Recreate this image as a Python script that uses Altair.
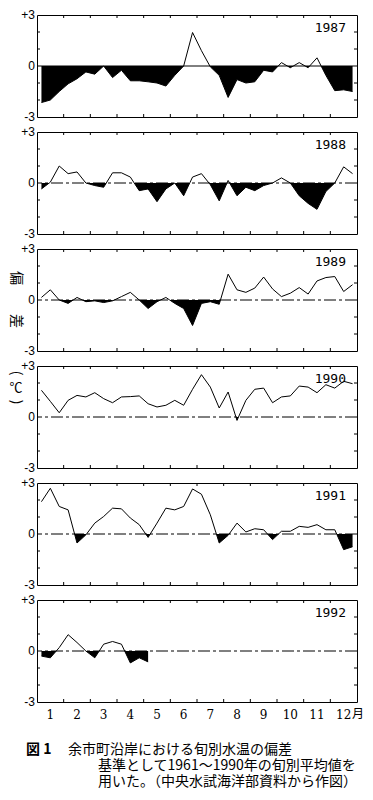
import altair as alt
import pandas as pd

# ---- data (dekad-wise water temperature anomaly, deg C) ----
YEARS = [1987, 1988, 1989, 1990, 1991, 1992]
V1987 = [-2.15, -2.0, -1.5, -1.05, -0.75, -0.35, -0.48, 0.0, -0.68, -0.25, -0.87, -0.87,
         -0.93, -1.0, -1.18, -0.55, 0.0, 1.97, 0.9, -0.05, -0.55, -1.85, -0.8, -1.0,
         -0.93, -0.25, -0.35, 0.2, -0.1, 0.2, -0.1, 0.48, -0.55, -1.45, -1.4, -1.5]
V1988 = [-0.35, 0.05, 1.0, 0.55, 0.65, 0.0, -0.15, -0.25, 0.6, 0.6, 0.35, -0.45,
         -0.35, -1.1, -0.35, 0.0, -0.75, 0.35, 0.55, -0.1, -1.05, 0.15, -0.75, -0.25,
         -0.45, -0.15, 0.0, 0.3, 0.0, -0.75, -1.2, -1.55, -0.5, 0.0, 0.95, 0.55]
V1989 = [0.15, 0.6, 0.0, -0.2, 0.15, -0.1, -0.05, -0.15, -0.05, 0.2, 0.45, 0.0,
         -0.5, -0.1, 0.15, -0.2, -0.5, -1.5, -0.2, -0.1, -0.25, 1.52, 0.6, 0.45,
         0.7, 1.35, 0.65, 0.2, 0.4, 0.73, 0.35, 1.12, 1.32, 1.38, 0.5, 0.9]
V1990 = [1.57, 0.92, 0.25, 0.98, 1.27, 1.18, 1.43, 1.08, 0.84, 1.18, 1.2, 1.24,
         0.78, 0.59, 0.69, 0.98, 0.69, 1.63, 2.49, 1.76, 0.53, 1.47, -0.2, 0.98,
         1.63, 1.7, 0.84, 1.18, 1.24, 1.82, 1.76, 1.43, 1.9, 1.7, 2.1, 1.96]
V1991 = [1.9, 2.69, 1.62, 1.42, -0.53, -0.05, 0.64, 1.03, 1.52, 1.48, 0.94, 0.55,
         -0.2, 0.64, 1.52, 1.42, 1.62, 2.65, 2.34, 1.13, -0.53, -0.08, 0.64, 0.12,
         0.31, 0.25, -0.33, 0.16, 0.16, 0.45, 0.39, 0.55, 0.25, 0.25, -0.92, -0.75]
V1992 = [-0.3, -0.4, 0.2, 0.96, 0.5, 0.0, -0.4, 0.4, 0.56, 0.4, -0.7, -0.4, -0.64]
SERIES = [V1987, V1988, V1989, V1990, V1991, V1992]

MONTHS = list(range(1, 13))
Y_LABELS = [-3, 0, 3]
Y_MINOR = [-2, -1, 1, 2]
CAPTION = ["図 1", "余市町沿岸における旬別水温の偏差",
           "基準として1961～1990年の旬別平均値を",
           "用いた。（中央水試海洋部資料から作図）"]

W, H = 320, 102
XS = alt.Scale(domain=[0, 36], nice=False, zero=False)
YS = alt.Scale(domain=[-3, 3], nice=False, zero=False)
JP = "Noto Sans CJK JP"


def with_crossings(vals):
    xs = [i + 0.5 for i in range(len(vals))]
    rows = []
    for i, (x, v) in enumerate(zip(xs, vals)):
        if i > 0:
            x0, v0 = xs[i - 1], vals[i - 1]
            if (v0 < 0 < v) or (v0 > 0 > v):
                rows.append((x0 + (x - x0) * (0 - v0) / (v - v0), 0.0))
        rows.append((x, v))
    return pd.DataFrame(rows, columns=["x", "v"])


def txt(t, x, y, size=14, font=JP, align="center", weight="normal", angle=0):
    kw = {"angle": angle} if angle else {}
    return alt.Chart(pd.DataFrame({"t": [t]})).mark_text(
        align=align, baseline="middle", font=font, fontSize=size,
        fontWeight=weight, color="black", **kw).encode(
        text="t:N", x=alt.value(x), y=alt.value(y))


def panel(idx):
    year, vals = YEARS[idx], SERIES[idx]
    last = idx == len(YEARS) - 1
    df = with_crossings(vals)
    base = alt.Chart(df)

    dash = {} if year == 1987 else {"strokeDash": [12, 3, 3, 3]}
    zero = alt.Chart(pd.DataFrame({"z": [0]})).mark_rule(
        color="black", strokeWidth=1, **dash).encode(
        y=alt.Y("z:Q", scale=YS, axis=None))

    area = base.transform_calculate(neg="min(datum.v, 0)", zero="0").mark_area(
        color="black", opacity=1).encode(
        x=alt.X("x:Q", scale=XS, axis=None),
        y=alt.Y("neg:Q", scale=YS, axis=None),
        y2="zero:Q")

    line = base.mark_line(color="black", strokeWidth=1).encode(
        x=alt.X("x:Q", scale=XS, axis=None),
        y=alt.Y("v:Q", scale=YS, axis=None))

    bdf = pd.DataFrame({"b": [3 * m for m in MONTHS[:-1]]})
    top_ticks = alt.Chart(bdf).mark_rule(color="black").encode(
        x=alt.X("b:Q", scale=XS, axis=None), y=alt.value(0), y2=alt.value(3))
    bot_ticks = alt.Chart(bdf).mark_rule(color="black").encode(
        x=alt.X("b:Q", scale=XS, axis=None), y=alt.value(H), y2=alt.value(H - 3))
    tdf = pd.DataFrame({"t": Y_MINOR})
    left_ticks = alt.Chart(tdf).mark_rule(color="black").encode(
        y=alt.Y("t:Q", scale=YS, axis=None), x=alt.value(0), x2=alt.value(3))
    right_ticks = alt.Chart(tdf).mark_rule(color="black").encode(
        y=alt.Y("t:Q", scale=YS, axis=None), x=alt.value(W), x2=alt.value(W - 3))

    ldf = pd.DataFrame({"y": Y_LABELS,
                        "lab": [("+" if v > 0 else "") + str(v) for v in Y_LABELS]})
    ylabels = alt.Chart(ldf).mark_text(
        align="right", baseline="middle", font="Liberation Sans", fontSize=12,
        color="black").encode(
        y=alt.Y("y:Q", scale=YS, axis=None), x=alt.value(-2), text="lab:N")

    yearlab = txt(str(year), 309, 13, size=13, font="DejaVu Sans Mono", align="right")

    layers = [zero, area, line, top_ticks, bot_ticks, left_ticks, right_ticks,
              ylabels, yearlab]

    if idx == 2:
        layers += [txt("偏", -21, 29, angle=90), txt("差", -21, 72, angle=90),
                   txt("(", -21, 124, angle=90), txt("℃", -21, 139, size=13),
                   txt(")", -21, 153, angle=90)]

    if last:
        mdf = pd.DataFrame({"m": MONTHS, "lab": [str(m) for m in MONTHS]})
        mlabels = alt.Chart(mdf).transform_calculate(
            xc="3 * datum.m - 1.5").mark_text(
            align="center", baseline="middle", font="DejaVu Serif", fontSize=12,
            color="black").encode(
            x=alt.X("xc:Q", scale=XS, axis=None), y=alt.value(H + 13), text="lab:N")
        layers += [mlabels, txt("月", 321, H + 12, size=12)]
        cap_pos = [(-11, 150, "bold"), (31, 150, "normal"),
                   (61, 166, "normal"), (61, 182, "normal")]
        for t, (xx, yy, fw) in zip(CAPTION, cap_pos):
            layers.append(txt(t, xx, yy, size=14, align="left", weight=fw))

    return alt.layer(*layers).properties(width=W, height=H)


chart = alt.vconcat(*[panel(i) for i in range(len(YEARS))], spacing=15,
                    bounds="flush").properties(
    padding={"left": 0, "top": 0, "right": 0, "bottom": 0},
    background="white"
).configure_view(stroke="black", strokeWidth=1)

chart.save("out.html", embed_options={"renderer": "svg", "actions": False})
